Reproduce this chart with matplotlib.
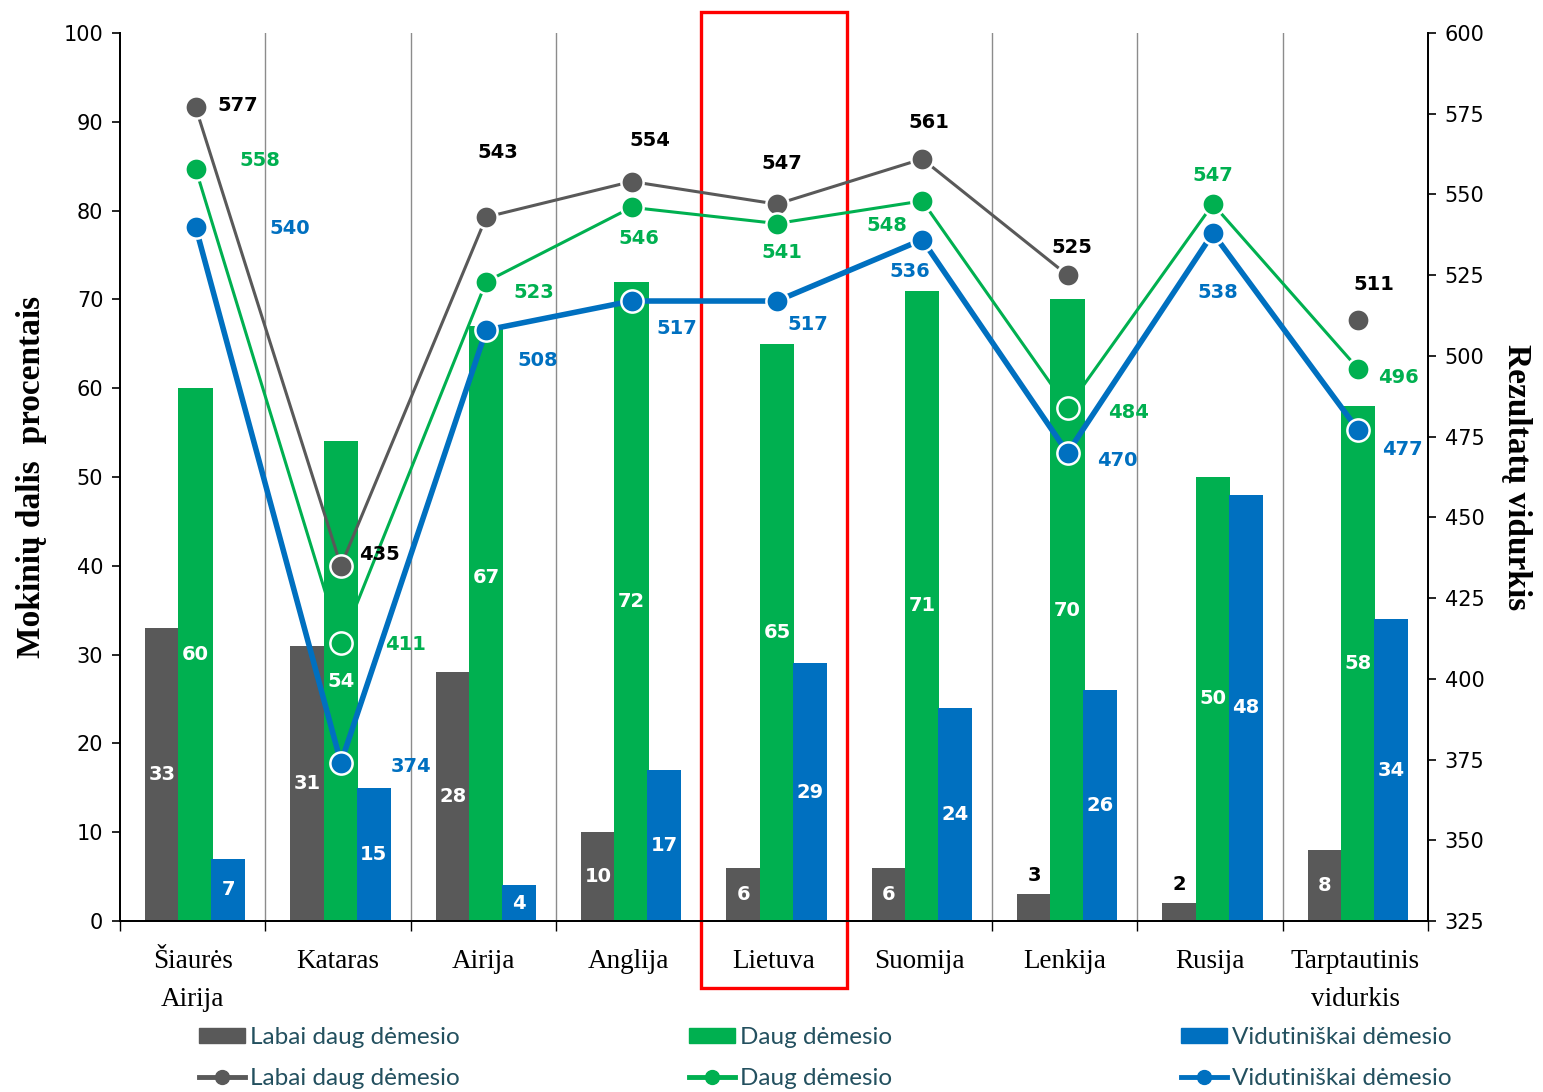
import numpy as np
import matplotlib
matplotlib.use("Agg")
import matplotlib.pyplot as plt
from matplotlib.patches import Rectangle
from matplotlib.lines import Line2D
import matplotlib.transforms as mtransforms

categories = ["Šiaurės\nAirija", "Kataras", "Airija", "Anglija", "Lietuva",
              "Suomija", "Lenkija", "Rusija", "Tarptautinis\nvidurkis"]
bar_very = [33, 31, 28, 10, 6, 6, 3, 2, 8]
bar_much = [60, 54, 67, 72, 65, 71, 70, 50, 58]
bar_mid = [7, 15, 4, 17, 29, 24, 26, 48, 34]
line_very = [577, 435, 543, 554, 547, 561, 525, np.nan, 511]
line_much = [558, 411, 523, 546, 541, 548, 484, 547, 496]
line_mid = [540, 374, 508, 517, 517, 536, 470, 538, 477]
series_name = ["Labai daug dėmesio", "Daug dėmesio", "Vidutiniškai dėmesio"]

# label offsets (pixels) for line labels
off_very = [(42, 2), (39, 11), (12, 65), (18, 41), (5, 41), (7, 36), (4, 28), (0, 0), (16, 36)]
off_much = [(64, 8), (65, -1), (48, -11), (7, -31), (5, -29), (-35, -25), (61, -5), (0, 29), (40, -9)]
off_mid = [(94, -2), (70, -4), (52, -30), (45, -27), (31, -23), (-12, -32), (50, -8), (5, -59), (44, -19)]
# vertical nudges (pixels) for bar value labels
nudge_very = [0] * 9
nudge_much = [0, 0, 46, 0, 0, 0, 0, 0, 0]
nudge_mid = [0] * 9

GREY = "#595959"
GREEN = "#00b050"
BLUE = "#0070c0"

W, H = 1543, 1092
fig = plt.figure(figsize=(W / 100, H / 100), dpi=100)
ax = fig.add_axes([120 / W, 1 - 921 / H, (1428 - 120) / W, (921 - 33) / H])
ax2 = ax.twinx()

x = np.arange(len(categories))
bw = 0.235
offsets = [-0.21, 0.02, 0.245]
bar_sets = [bar_very, bar_much, bar_mid]
nudges = [nudge_very, nudge_much, nudge_mid]
colors = [GREY, GREEN, BLUE]
for vals, off, c, nd in zip(bar_sets, offsets, colors, nudges):
    ax.bar(x + off, vals, width=bw, color=c, zorder=2)
    for xi, v, n in zip(x, vals, nd):
        if c == GREY and v < 4:
            ax.annotate(str(v), (xi + off, v), xytext=(0, 19), textcoords="offset pixels",
                        ha="center", va="center", color="black", fontsize=14,
                        fontweight="bold", zorder=5)
        else:
            ax.annotate(str(v), (xi + off, v / 2), xytext=(0, n), textcoords="offset pixels",
                        ha="center", va="center", color="white",
                        fontsize=14, fontweight="bold", zorder=5)

ax.set_xlim(-0.5, len(categories) - 0.5)
ax.set_ylim(0, 100)
ax.set_yticks(np.arange(0, 101, 10))
ax2.set_ylim(325, 600)
ax2.set_yticks(np.arange(325, 601, 25))

# vertical separators
for b in np.arange(0.5, len(categories) - 1, 1.0):
    ax.axvline(b, color="#8c8c8c", lw=1.0, zorder=1)

ax.set_xticks(x)
ax.set_xticklabels(categories, fontfamily="Liberation Serif", fontsize=19.5, linespacing=1.7)
ax.tick_params(axis="x", length=0, pad=20)
ax.set_xticks(np.arange(-0.5, len(categories), 1.0), minor=True)
ax.tick_params(axis="x", which="minor", length=7, direction="out", width=1)

ax.tick_params(axis="y", length=6, direction="out", width=1.2, labelsize=15, pad=6)
ax2.tick_params(axis="y", length=6, direction="out", width=1.2, labelsize=15, pad=6)
for a in (ax, ax2):
    a.spines["top"].set_visible(False)
    for s in ("left", "right", "bottom"):
        a.spines[s].set_linewidth(1.3)

ax.set_ylabel("Mokinių dalis  procentais", fontfamily="Liberation Serif", fontweight="bold",
              fontsize=24, labelpad=12)
ax2.set_ylabel("Rezultatų vidurkis", fontfamily="Liberation Serif", fontweight="bold",
               fontsize=24, rotation=-90, labelpad=34)

lx = x + 0.02
line_sets = [line_very, line_much, line_mid]
lws = [2.2, 2.2, 4.0]
lab_colors = ["black", GREEN, BLUE]
offs = [off_very, off_much, off_mid]
for vals, c, lw, lc, of in zip(line_sets, colors, lws, lab_colors, offs):
    ax2.plot(lx, vals, color=c, lw=lw, marker="o", markersize=16, markerfacecolor=c,
             markeredgecolor="white", markeredgewidth=1.8, zorder=3)
    for xi, v, o in zip(lx, vals, of):
        if np.isnan(v):
            continue
        ax2.annotate(f"{int(v)}", (xi, v), xytext=o, textcoords="offset pixels",
                     ha="center", va="center", color=lc, fontsize=14, fontweight="bold",
                     zorder=6)

# red highlight rectangle around Lietuva
trans = mtransforms.blended_transform_factory(ax.transData, ax.transAxes)
li = categories.index("Lietuva")
rect = Rectangle((li - 0.5, -0.0755), 1.0, 1.0236 + 0.0755, transform=trans,
                 fill=False, edgecolor="#ff0000", lw=2.4, clip_on=False, zorder=10)
ax.add_patch(rect)

# legends
leg_positions = [205 / W, 695 / W, 1187 / W]
for name, c, lw, px in zip(series_name, colors, lws, leg_positions):
    handles = [Rectangle((0, 0), 1, 1, color=c),
               Line2D([0], [0], color=c, lw=3.5, marker="o", markersize=10,
                      markerfacecolor=c, markeredgecolor=c)]
    leg = fig.legend(handles, [name, name], loc="upper left",
                     bbox_to_anchor=(px - 0.004, 1 - 1027 / H), frameon=False,
                     prop={"family": "Lato", "size": 17.5}, handlelength=1.9,
                     handleheight=0.55, handletextpad=0.2, labelspacing=0.82,
                     borderaxespad=0, borderpad=0)
    for t in leg.get_texts():
        t.set_color("#23505f")

fig.savefig("out.png", dpi=100)
